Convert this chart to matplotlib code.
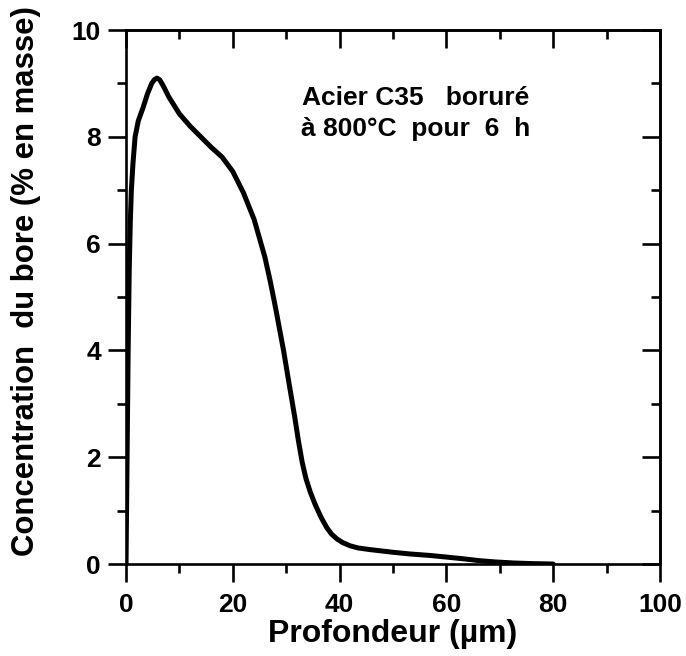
import matplotlib.pyplot as plt
from matplotlib.ticker import MultipleLocator

plt.rcParams['font.family'] = ['Liberation Sans', 'DejaVu Sans']
plt.rcParams['font.weight'] = 'bold'

# profondeur (um) et concentration en bore (% en masse)
depth = [0, 0.2, 0.4, 0.6, 0.8, 1.0, 1.3, 1.7, 2.3, 3.2, 4.0, 4.8, 5.3, 5.8,
         6.3, 7, 8, 10, 12, 14, 16, 18, 20, 21, 22, 24, 26, 27, 28, 29.5,
         30.5, 31.6, 32.3, 33, 33.7, 34.5, 35.4, 36.5, 37.6, 38.5, 39.5,
         40.6, 42, 43.5, 45.7, 50, 53, 57, 60, 63, 66, 69, 72.5, 76, 80]
boron = [0, 2.0, 4.0, 5.5, 6.4, 7.0, 7.5, 8.0, 8.3, 8.55, 8.8, 9.0, 9.07,
         9.1, 9.07, 8.95, 8.75, 8.43, 8.2, 8.0, 7.8, 7.62, 7.35, 7.15, 6.95,
         6.45, 5.75, 5.3, 4.8, 4.0, 3.4, 2.75, 2.3, 1.9, 1.6, 1.35, 1.12,
         0.88, 0.68, 0.56, 0.47, 0.4, 0.34, 0.3, 0.27, 0.22, 0.19, 0.16,
         0.13, 0.1, 0.065, 0.04, 0.02, 0.008, 0.0]

xticks = [0, 20, 40, 60, 80, 100]
yticks = [0, 2, 4, 6, 8, 10]

fig = plt.figure(figsize=(6.86, 6.56), dpi=100)
ax = fig.add_axes([0.1837, 0.1402, 0.7784, 0.814])

ax.plot(depth, boron, color='black', lw=3.6, solid_capstyle='round',
        solid_joinstyle='round')

ax.set_xlim(0, 100)
ax.set_ylim(0, 10)
ax.set_xticks(xticks)
ax.set_yticks(yticks)
ax.xaxis.set_minor_locator(MultipleLocator(10))
ax.yaxis.set_minor_locator(MultipleLocator(1))

for s in ax.spines.values():
    s.set_linewidth(1.9)

ax.tick_params(which='both', direction='out', width=1.9, labelsize=19,
               top=False, right=False)
ax.tick_params(axis='x', which='major', length=13, pad=8)
ax.tick_params(axis='y', which='major', length=13, pad=5)
ax.tick_params(which='minor', length=6.5)

# ticks intérieurs en haut et à droite
ax2 = ax.secondary_xaxis('top')
ax2.set_xticks(xticks)
ax2.xaxis.set_minor_locator(MultipleLocator(10))
ax2.tick_params(which='both', direction='in', width=1.9, labeltop=False)
ax2.tick_params(which='major', length=13)
ax2.tick_params(which='minor', length=6.5)
ax2.spines['top'].set_linewidth(1.9)
ax3 = ax.secondary_yaxis('right')
ax3.set_yticks(yticks)
ax3.yaxis.set_minor_locator(MultipleLocator(1))
ax3.tick_params(which='both', direction='in', width=1.9, labelright=False)
ax3.tick_params(which='major', length=13)
ax3.tick_params(which='minor', length=6.5)
ax3.spines['right'].set_linewidth(1.9)

for lab in ax.get_xticklabels() + ax.get_yticklabels():
    lab.set_fontweight('bold')

ax.set_xlabel('Profondeur (µm)', fontsize=23, fontweight='bold', labelpad=1)
ylab = ax.set_ylabel('Concentration  du bore (% en masse)', fontsize=22,
                     fontweight='bold')
ax.yaxis.set_label_coords(-0.16, 0.53)

# ajuster la taille du titre vertical pour qu'il tienne dans la hauteur
r = fig.canvas.get_renderer()
h = ylab.get_window_extent(r).height
ylab.set_fontsize(22 * 550 / h)

ax.text(0.542, 0.873, 'Acier C35   boruré', transform=ax.transAxes,
        fontsize=19, fontweight='bold', ha='center', va='center')
ax.text(0.542, 0.815, 'à 800°C  pour  6  h', transform=ax.transAxes,
        fontsize=19, fontweight='bold', ha='center', va='center')

fig.savefig('out.png', dpi=100)
